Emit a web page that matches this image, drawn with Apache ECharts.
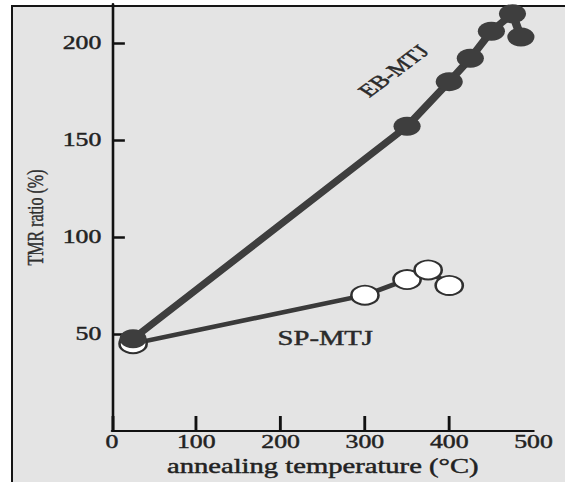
<!DOCTYPE html>
<html>
<head>
<meta charset="utf-8">
<script src="https://cdn.jsdelivr.net/npm/echarts@6/dist/echarts.min.js"></script>
<style>
html,body{margin:0;padding:0;background:#ffffff;width:565px;height:482px;overflow:hidden;}
#frame{position:absolute;left:11px;top:5px;width:554px;height:477px;background:#e4e4e4;border-left:2px solid #151515;border-top:2px solid #151515;box-sizing:border-box;}
#chart{position:absolute;left:0;top:0;width:395px;height:482px;transform:scaleX(1.4304);transform-origin:0 0;}
</style>
</head>
<body>
<div id="frame"></div>
<div id="chart"></div>
<script>
// ---- data ----
const xTicks = [0, 100, 200, 300, 400, 500];
const yTicks = [50, 100, 150, 200];
const ebTemps = [25, 350, 400, 425, 450, 475, 485];
const ebTMR   = [47.5, 157, 180, 192, 206, 215, 203];
const spTemps = [25, 300, 350, 375, 400];
const spTMR   = [45, 70, 78, 83, 75];
const ebLabel = 'EB-MTJ';
const ebLabelAt = [334, 185.5];
const spLabel = 'SP-MTJ';
const spLabelAt = [253, 47.7];
const xName = 'annealing temperature (\u00B0C)';
const yName = 'TMR ratio (%)';

const ebData = ebTemps.map((t, i) => [t, ebTMR[i]]);
const spData = spTemps.map((t, i) => [t, spTMR[i]]);

const serif = '"Liberation Serif", "Times New Roman", serif';
const ink = '#222222';
const thick = {textBorderColor: '#2a2a2a', textBorderWidth: 0.45};

const chart = echarts.init(document.getElementById('chart'), null, {renderer: 'svg'});
chart.setOption({
  animation: false,
  backgroundColor: 'transparent',
  grid: {left: 78.3, right: 22, top: 4, bottom: 51},
  xAxis: {
    type: 'value', min: 0, max: 500, interval: 100,
    name: xName, nameLocation: 'middle', nameGap: 25,
    nameTextStyle: Object.assign({fontFamily: serif, fontSize: 20, color: ink}, thick),
    axisLine: {show: true, lineStyle: {color: '#111', width: 1.8}},
    axisTick: {show: true, inside: true, length: 15, customValues: [0, 100, 200, 300, 400], lineStyle: {color: '#111', width: 2}},
    axisLabel: Object.assign({fontFamily: serif, fontSize: 18, color: ink, margin: 2, customValues: xTicks}, thick),
    splitLine: {show: false}
  },
  yAxis: {
    type: 'value', min: 0, max: 220, interval: 50,
    name: yName, nameLocation: 'middle', nameGap: 45, nameRotate: 90,
    nameTextStyle: {fontFamily: serif, fontSize: 16, color: '#2e2e2e', textBorderColor: '#333', textBorderWidth: 0.3},
    axisLine: {show: true, lineStyle: {color: '#111', width: 1.8}},
    axisTick: {show: true, inside: true, length: 9, customValues: yTicks, lineStyle: {color: '#111', width: 2.5}},
    axisLabel: Object.assign({fontFamily: serif, fontSize: 18, color: ink, margin: 7.5, customValues: yTicks}, thick),
    splitLine: {show: false}
  },
  series: [
    {
      name: 'SP-MTJ', type: 'line', data: spData,
      symbol: 'circle', symbolSize: 19, showSymbol: true,
      lineStyle: {color: '#3a3a3a', width: 4.5},
      itemStyle: {color: '#ffffff', borderColor: '#303030', borderWidth: 1.8},
      markPoint: {
        symbol: 'circle', symbolSize: 0, silent: true,
        data: [{coord: spLabelAt, value: spLabel}],
        label: Object.assign({show: true, position: 'inside', formatter: spLabel, fontFamily: serif, fontSize: 20, color: '#2a2a2a'}, thick)
      },
      z: 2
    },
    {
      name: 'EB-MTJ', type: 'line', data: ebData,
      symbol: 'circle', symbolSize: 19, showSymbol: true,
      lineStyle: {color: '#3e3e3e', width: 6},
      itemStyle: {color: '#3e3e3e', borderColor: '#3e3e3e', borderWidth: 0},
      markPoint: {
        symbol: 'circle', symbolSize: 0, silent: true,
        data: [{coord: ebLabelAt, value: ebLabel}],
        label: Object.assign({show: true, position: 'inside', formatter: ebLabel, rotate: 47, fontFamily: serif, fontSize: 18, color: '#2a2a2a'}, thick)
      },
      z: 3
    }
  ]
});
</script>
</body>
</html>
